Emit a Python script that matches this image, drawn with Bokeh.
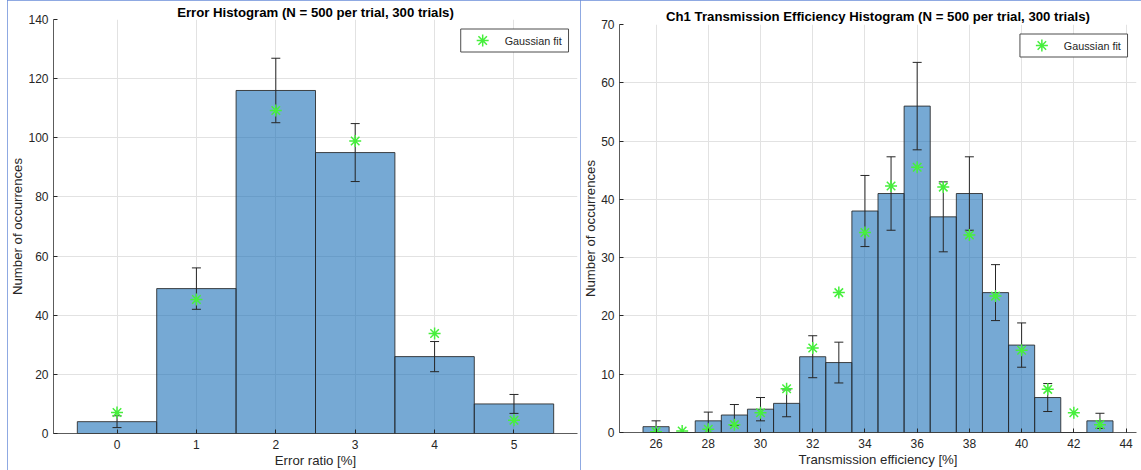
from bokeh.plotting import figure
from bokeh.layouts import row, column
from bokeh.models import ColumnDataSource, FixedTicker, Range1d
from bokeh.core.properties import value
from bokeh.embed import file_html
from bokeh.resources import INLINE

# ---- Error ratio histogram data ----
err_bins = [0, 1, 2, 3, 4, 5]
err_counts = [4, 49, 116, 95, 26, 10]
err_std = [2.0, 7.0, 10.9, 9.8, 5.1, 3.2]
err_fit = [7.1, 45.3, 109.2, 98.9, 33.8, 4.5]
err_xticks = [0, 1, 2, 3, 4, 5]
err_yticks = [0, 20, 40, 60, 80, 100, 120, 140]

# ---- Ch1 transmission efficiency histogram data ----
eff_bins = [26, 27, 28, 29, 30, 31, 32, 33, 34, 35, 36, 37, 38, 39, 40, 41, 42, 43]
eff_counts = [1, 0, 2, 3, 4, 5, 13, 12, 38, 41, 56, 37, 41, 24, 15, 6, 0, 2]
eff_std = [1.0, 0.0, 1.5, 1.8, 2.0, 2.3, 3.6, 3.5, 6.1, 6.3, 7.5, 6.0, 6.3, 4.8, 3.8, 2.4, 0.0, 1.3]
eff_fit = [0.15, 0.25, 0.55, 1.35, 3.4, 7.5, 14.5, 24.0, 34.3, 42.3, 45.5, 42.1, 33.9,
           23.4, 14.1, 7.4, 3.4, 1.35]
eff_xticks = [26, 28, 30, 32, 34, 36, 38, 40, 42, 44]
eff_yticks = [0, 10, 20, 30, 40, 50, 60, 70]

legend_label = "Gaussian fit"

FONT = "Liberation Sans"
INK = "#262626"
BAR = "#1a6fb8"
FIT = "#46ef3c"
FRAME = "#6a8cd8"
HEIGHT = 470


def histogram_panel(title, xlabel, bins, counts, std, fit, xr, yr, xticks, yticks,
                    width, border_left, border_right, border_top, border_bottom,
                    title_standoff):
    p = figure(width=width, height=HEIGHT, output_backend="svg", toolbar_location=None,
               x_range=Range1d(*xr), y_range=Range1d(*yr),
               min_border_left=border_left, min_border_right=border_right,
               min_border_top=border_top, min_border_bottom=border_bottom,
               styles={"outline": "1px solid " + FRAME, "outline-offset": "-1px"})
    p.outline_line_color = None

    p.title.text = title
    p.title.align = "center"
    p.title.text_font = FONT
    p.title.text_font_size = "13.2px"
    p.title.text_font_style = "bold"
    p.title.text_color = "#000000"
    p.title.standoff = title_standoff

    src = ColumnDataSource(dict(x=bins, count=counts, fit=fit))
    p.vbar(x="x", top="count", width=1.0, bottom=0, source=src,
           fill_color=BAR, fill_alpha=0.6, line_color=INK, line_alpha=0.85,
           line_width=1)

    # mean +/- one standard deviation over the trials
    ex = [b for b, s in zip(bins, std) if s > 0]
    lo = [c - s for c, s in zip(counts, std) if s > 0]
    hi = [c + s for c, s in zip(counts, std) if s > 0]
    esrc = ColumnDataSource(dict(x=ex, lo=lo, hi=hi))
    p.segment(x0="x", y0="lo", x1="x", y1="hi", source=esrc, line_color=INK,
              line_width=1)
    p.scatter(x="x", y="lo", source=esrc, marker="dash", size=9, line_color=INK,
              line_width=1)
    p.scatter(x="x", y="hi", source=esrc, marker="dash", size=9, line_color=INK,
              line_width=1)

    p.scatter(x="x", y="fit", source=src, marker="asterisk", size=12,
              line_color=FIT, line_width=1.5)

    for ax, ticks in ((p.xaxis[0], xticks), (p.yaxis[0], yticks)):
        ax.ticker = FixedTicker(ticks=ticks)
        ax.axis_line_color = INK
        ax.axis_line_alpha = 0.75
        ax.major_tick_line_color = INK
        ax.major_tick_in = 4
        ax.major_tick_out = 0
        ax.minor_tick_line_color = None
        ax.major_label_text_font = FONT
        ax.major_label_text_font_size = "12px"
        ax.major_label_text_color = INK
        ax.axis_label_text_font = FONT
        ax.axis_label_text_font_size = "13.2px"
        ax.axis_label_text_font_style = "normal"
        ax.axis_label_text_color = INK
    p.xaxis[0].axis_label = xlabel
    p.xaxis[0].major_label_standoff = 6
    p.xaxis[0].axis_label_standoff = 1
    p.yaxis[0].axis_label = "Number of occurrences"
    p.yaxis[0].major_label_standoff = 5
    p.yaxis[0].axis_label_standoff = 0

    p.xgrid.ticker = FixedTicker(ticks=xticks)
    p.ygrid.ticker = FixedTicker(ticks=yticks)
    for g in (p.xgrid[0], p.ygrid[0]):
        g.grid_line_color = "#e2e2e2"
        g.grid_line_width = 1

    # legend box drawn in frame-pixel coordinates, anchored at the top-right corner
    fw = width - border_left - border_right
    fh = HEIGHT - border_top - border_bottom
    p.extra_x_ranges = {"px": Range1d(0, fw)}
    p.extra_y_ranges = {"py": Range1d(0, fh)}
    box_r, box_t = fw - 9, fh - 9.5
    box_l, box_b = box_r - 108, box_t - 23
    p.quad(left=[box_l], right=[box_r], bottom=[box_b], top=[box_t],
           x_range_name="px", y_range_name="py", fill_color="white",
           line_color="#4d4d4d", line_width=1, level="overlay")
    mid = (box_t + box_b) / 2
    p.scatter(x=[box_l + 22], y=[mid], x_range_name="px", y_range_name="py",
              marker="asterisk", size=12, line_color=FIT, line_width=1.5,
              level="overlay")
    p.text(x=[box_l + 44], y=[mid], text=[legend_label], x_range_name="px",
           y_range_name="py", text_font=value(FONT), text_font_size="10.8px",
           text_color=INK, text_baseline="middle", level="overlay")
    return p


left = histogram_panel("Error Histogram (N = 500 per trial, 300 trials)", "Error ratio [%]",
                       err_bins, err_counts, err_std, err_fit, (-0.8, 5.8), (0, 140),
                       err_xticks, err_yticks, 573, 45, 3, 19, 37, 0)

right = histogram_panel("Ch1 Transmission Efficiency Histogram (N = 500 per trial, 300 trials)",
                        "Transmission efficiency [%]",
                        eff_bins, eff_counts, eff_std, eff_fit, (24.6, 44.4), (0, 70),
                        eff_xticks, eff_yticks, 561, 37, 5, 24, 38, 2)

# each panel sits in its own column so the two plotting frames are laid out independently
left_col = column(left)
left_col.margin = (0, 0, 0, 7)
right_col = column(right)
layout = row(left_col, right_col)
layout.spacing = 0

open("out.html", "w").write(file_html(layout, INLINE))
